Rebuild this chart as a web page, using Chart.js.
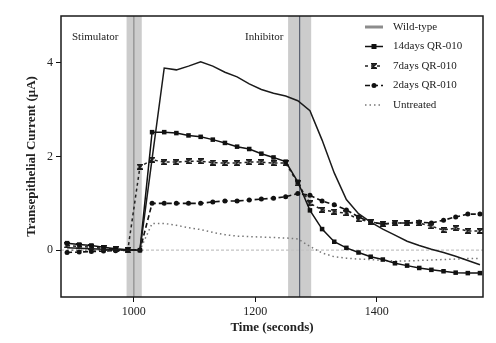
<!DOCTYPE html>
<html>
<head>
<meta charset="utf-8">
<script src="https://cdn.jsdelivr.net/npm/chart.js@4.4.1/dist/chart.umd.min.js"></script>
<style>
  html, body { margin: 0; padding: 0; background: #fff; }
  #wrap { width: 496px; height: 343px; }
</style>
</head>
<body>
<div id="wrap"><canvas id="chart" width="496" height="343"></canvas></div>
<script>
// sample times (seconds)
const times = [890, 910, 930, 950, 970, 990, 1010, 1030, 1050, 1070, 1090, 1110, 1130, 1150, 1170, 1190, 1210, 1230, 1250,
  1270, 1290, 1310, 1330, 1350, 1370, 1390, 1410, 1430, 1450, 1470, 1490, 1510, 1530, 1550, 1570];

const wildType = [0.05, 0.04, 0.03, 0.02, 0.01, 0.0, 0.0, 1.95, 3.89, 3.85, 3.93, 4.02, 3.93, 3.8, 3.7, 3.55, 3.43, 3.35, 3.29,
  3.19, 2.98, 2.35, 1.65, 1.08, 0.78, 0.6, 0.45, 0.32, 0.19, 0.1, 0.02, -0.05, -0.13, -0.22, -0.31];
const days14 = [0.15, 0.12, 0.1, 0.06, 0.03, 0.01, 0.0, 2.52, 2.52, 2.5, 2.45, 2.42, 2.36, 2.29, 2.21, 2.16, 2.06, 1.98, 1.89,
  1.46, 0.85, 0.45, 0.18, 0.05, -0.05, -0.14, -0.2, -0.28, -0.33, -0.38, -0.42, -0.45, -0.48, -0.49, -0.49];
const days7 = [0.1, 0.08, 0.06, 0.04, 0.02, 0.0, 1.78, 1.93, 1.88, 1.88, 1.9, 1.9, 1.87, 1.86, 1.86, 1.88, 1.88, 1.86, 1.86,
  1.43, 1.0, 0.86, 0.82, 0.79, 0.66, 0.6, 0.56, 0.58, 0.58, 0.58, 0.51, 0.43, 0.47, 0.41, 0.41];
const days2 = [-0.05, -0.04, -0.03, -0.02, -0.01, 0.0, 0.0, 1.0, 1.0, 1.0, 1.0, 1.0, 1.03, 1.05, 1.05, 1.07, 1.09, 1.11, 1.14,
  1.21, 1.17, 1.05, 0.97, 0.86, 0.71, 0.6, 0.56, 0.58, 0.58, 0.6, 0.58, 0.64, 0.71, 0.77, 0.77];
const untreated = [0.0, 0.0, 0.0, 0.0, 0.0, 0.0, 0.0, 0.57, 0.57, 0.53, 0.48, 0.44, 0.38, 0.33, 0.3, 0.29, 0.28, 0.27, 0.26,
  0.24, 0.08, -0.06, -0.14, -0.17, -0.19, -0.2, -0.22, -0.23, -0.23, -0.22, -0.21, -0.2, -0.19, -0.18, -0.18];

const xTicks = [1000, 1200, 1400];
const yTicks = [0, 2, 4];

// treatment windows (seconds)
const stimBand = [988, 1013], stimLine = 1000;
const inhibBand = [1254, 1292], inhibLine = 1273;

const serif = "'Liberation Serif', 'DejaVu Serif', serif";

function boxCross(size) {
  const c = document.createElement('canvas');
  c.width = c.height = size;
  const g = c.getContext('2d');
  g.strokeStyle = '#1a1a1a';
  g.lineWidth = 1.5;
  g.beginPath();
  g.moveTo(0.7, 0.7); g.lineTo(size - 0.7, size - 0.7);
  g.moveTo(size - 0.7, 0.7); g.lineTo(0.7, size - 0.7);
  g.moveTo(0, 0.7); g.lineTo(size, 0.7);
  g.moveTo(0, size - 0.7); g.lineTo(size, size - 0.7);
  g.stroke();
  return c;
}
const crossImg = boxCross(6);

function pts(vals) {
  return vals.map((v, i) => ({ x: times[i], y: v }));
}

const bandsPlugin = {
  id: 'bands',
  beforeDatasetsDraw(chart) {
    const { ctx, chartArea: a, scales: { x, y } } = chart;
    ctx.save();
    ctx.fillStyle = 'rgba(195,195,195,0.85)';
    [stimBand, inhibBand].forEach(b => {
      const x1 = x.getPixelForValue(b[0]), x2 = x.getPixelForValue(b[1]);
      ctx.fillRect(x1, a.top, x2 - x1, a.bottom - a.top);
    });
    ctx.lineWidth = 1.2;
    ctx.strokeStyle = '#8a8a8a';
    let lx = x.getPixelForValue(stimLine);
    ctx.beginPath(); ctx.moveTo(lx, a.top); ctx.lineTo(lx, a.bottom); ctx.stroke();
    ctx.strokeStyle = '#5a6070';
    lx = x.getPixelForValue(inhibLine);
    ctx.beginPath(); ctx.moveTo(lx, a.top); ctx.lineTo(lx, a.bottom); ctx.stroke();
    // zero line
    const y0 = y.getPixelForValue(0);
    ctx.strokeStyle = '#c4c4c4';
    ctx.lineWidth = 1.2;
    ctx.setLineDash([3, 2]);
    ctx.beginPath(); ctx.moveTo(a.left, y0); ctx.lineTo(a.right, y0); ctx.stroke();
    ctx.restore();
  },
  afterDraw(chart) {
    const { ctx, chartArea: a } = chart;
    ctx.save();
    ctx.strokeStyle = '#1a1a1a';
    ctx.lineWidth = 1.5;
    ctx.strokeRect(a.left, a.top, a.right - a.left, a.bottom - a.top);

    ctx.fillStyle = '#222';
    ctx.font = '11px ' + serif;
    ctx.textBaseline = 'middle';
    ctx.textAlign = 'left';
    ctx.fillText('Stimulator', 72, 37);
    ctx.fillText('Inhibitor', 245, 37);

    // legend
    const lx = 365, tx = 393, y0 = 27, step = 19.5;
    chart.data.datasets.forEach((ds, i) => {
      const yy = y0 + i * step;
      ctx.save();
      ctx.strokeStyle = ds.legendColor || ds.borderColor;
      ctx.lineWidth = ds.legendWidth || ds.borderWidth;
      ctx.setLineDash(ds.borderDash || []);
      ctx.beginPath(); ctx.moveTo(lx, yy); ctx.lineTo(lx + 18, yy); ctx.stroke();
      ctx.restore();
      const cx = lx + 9;
      if (ds.pointStyle === 'rect' && ds.pointRadius > 0) {
        ctx.fillStyle = '#111';
        ctx.fillRect(cx - 2.5, yy - 2.5, 5, 5);
      } else if (ds.pointStyle === 'circle' && ds.pointRadius > 0) {
        ctx.fillStyle = '#111';
        ctx.beginPath(); ctx.arc(cx, yy, 2.5, 0, Math.PI * 2); ctx.fill();
      } else if (ds.pointStyle === crossImg) {
        ctx.drawImage(crossImg, cx - 3, yy - 3);
      }
      ctx.fillStyle = '#222';
      ctx.fillText(ds.label, tx, yy);
    });
    ctx.restore();
  }
};

new Chart(document.getElementById('chart'), {
  type: 'line',
  data: {
    datasets: [
      { label: 'Wild-type', data: pts(wildType), borderColor: '#1a1a1a', borderWidth: 1.5, pointRadius: 0,
        legendColor: '#8c8c8c', legendWidth: 3 },
      { label: '14days QR-010', data: pts(days14), borderColor: '#111', borderWidth: 1.5,
        pointStyle: 'rect', pointRadius: 3.2, pointBackgroundColor: '#111', pointBorderWidth: 0 },
      { label: '7days QR-010', data: pts(days7), borderColor: '#222', borderWidth: 1.5, borderDash: [3, 3],
        pointStyle: crossImg, pointRadius: 3 },
      { label: '2days QR-010', data: pts(days2), borderColor: '#111', borderWidth: 1.6, borderDash: [5, 3],
        pointStyle: 'circle', pointRadius: 2.5, pointBackgroundColor: '#111', pointBorderWidth: 0 },
      { label: 'Untreated', data: pts(untreated), borderColor: '#777', borderWidth: 1.5, borderDash: [1.5, 3],
        pointRadius: 0 }
    ]
  },
  options: {
    responsive: false,
    animation: false,
    devicePixelRatio: 1,
    layout: { padding: { top: 16, right: 13, left: 0, bottom: 0 } },
    plugins: { legend: { display: false }, tooltip: { enabled: false } },
    scales: {
      x: {
        type: 'linear',
        min: 880,
        max: 1575,
        afterBuildTicks: s => { s.ticks = xTicks.map(v => ({ value: v })); },
        afterFit: s => { s.height = 46; },
        grid: { drawOnChartArea: false, drawTicks: true, tickLength: 5, color: '#111' },
        border: { display: false },
        ticks: { color: '#222', font: { family: serif, size: 12 }, padding: 3, maxRotation: 0,
          callback: v => String(v) },
        title: { display: true, text: 'Time (seconds)', color: '#222',
          font: { family: serif, size: 13, weight: 'bold' }, padding: { top: 0, bottom: 8 } }
      },
      y: {
        min: -1,
        max: 5,
        afterBuildTicks: s => { s.ticks = yTicks.map(v => ({ value: v })); },
        afterFit: s => { s.width = 61; },
        grid: { drawOnChartArea: false, drawTicks: true, tickLength: 5, color: '#111' },
        border: { display: false },
        ticks: { color: '#222', font: { family: serif, size: 12 }, padding: 3, callback: v => String(v) },
        title: { display: true, text: 'Transepithelial Current (μA)', color: '#222',
          font: { family: serif, size: 13, weight: 'bold' }, padding: { top: 24, bottom: 0 } }
      }
    }
  },
  plugins: [bandsPlugin]
});
</script>
</body>
</html>
